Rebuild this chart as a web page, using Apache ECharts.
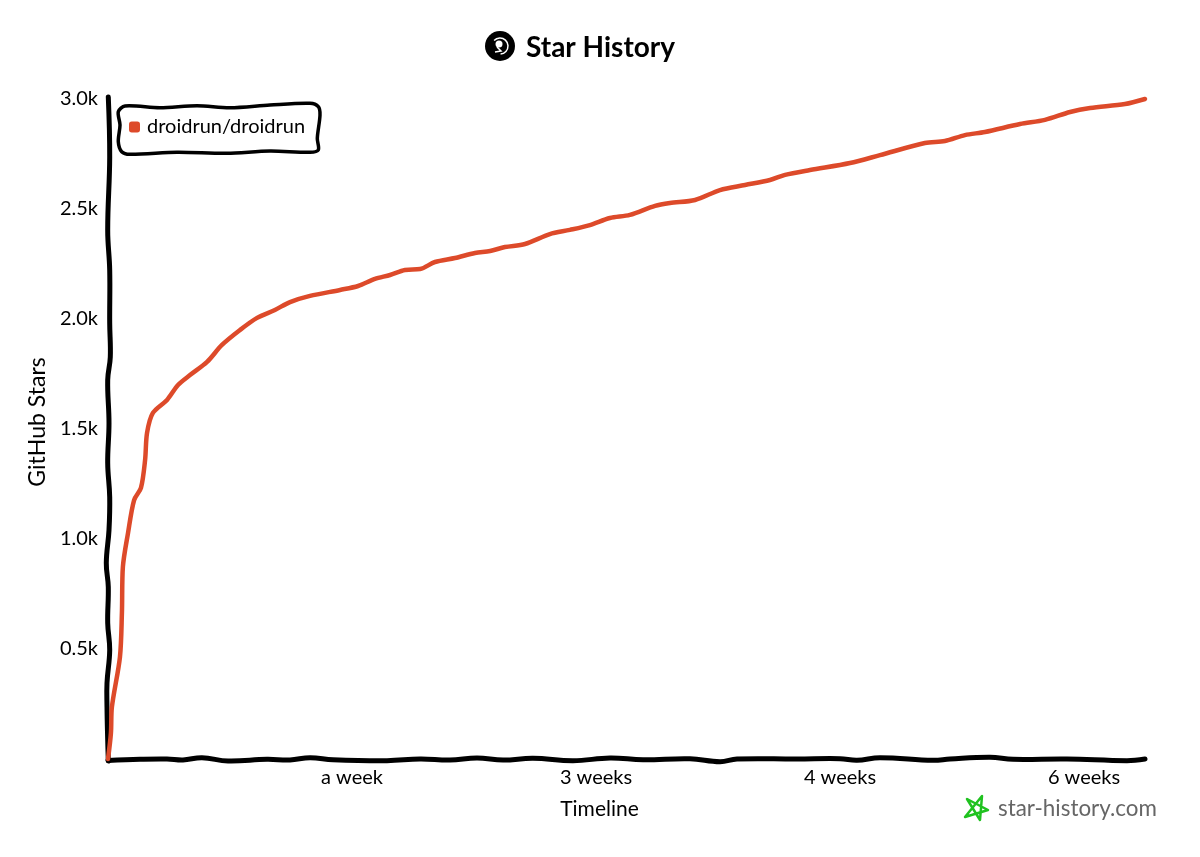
<html>
<head>
	<meta charset="UTF-8">
	<script src="https://cdn.jsdelivr.net/npm/echarts@6/dist/echarts.min.js"></script>
</head>

<body style="margin:0;background:#fff;">
<div id="chart" style="width:1200px;height:857px;"></div>

<script type="text/javascript">

        var fontName = 'Lato, "Noto Sans", sans-serif'

        var seriesName = 'droidrun/droidrun'
        // days since the first star
        var days = [0, 0.12, 0.16, 0.49, 0.57, 0.61, 0.82, 1.07, 1.35, 1.52, 1.6, 1.84, 2.42, 2.87, 3.36,
            4.06, 4.67, 5.41, 6.11, 6.84, 7.46, 8.28, 9.51, 10.25, 10.94, 11.56, 12.17, 12.79, 13.4, 14.22,
            15.04, 15.66, 16.27, 17.09, 18.11, 18.93, 19.75, 20.57, 21.39, 22.42, 23.03, 24.06, 25.08, 26.11,
            27.13, 27.75, 28.77, 30.41, 31.64, 33.48, 34.3, 35.12, 35.94, 37.38, 38.4, 39.43, 40.25, 41.68, 42.5]
        var stars = [0, 118, 236, 464, 664, 873, 1027, 1177, 1232, 1359, 1482, 1573, 1632, 1700, 1745,
            1805, 1882, 1950, 2005, 2041, 2077, 2105, 2132, 2150, 2182, 2200, 2223, 2227, 2259, 2277,
            2300, 2309, 2327, 2341, 2386, 2405, 2427, 2459, 2473, 2514, 2527, 2541, 2586, 2609,
            2632, 2655, 2677, 2709, 2745, 2800, 2809, 2836, 2850, 2886, 2905, 2941, 2959, 2977, 3000]

        var xTickValues = [10, 20, 30, 40]
        var xTickLabels = ['a week', '3 weeks', '4 weeks', '6 weeks']
        var yTickValues = [500, 1000, 1500, 2000, 2500, 3000]
        var yTickLabels = ['0.5k', '1.0k', '1.5k', '2.0k', '2.5k', '3.0k']

        // hand drawn outlines, the wobble is only decoration
        var sketchXAxis = [[108, 760.5], [140, 759.3], [167, 759], [183, 760], [202, 757.7], [228, 761], [267, 759.3], [290, 760],
            [310, 757.7], [333, 759.7], [387, 760.7], [420, 759], [450, 760], [477, 758], [503, 760], [533, 758.3], [573, 760.7],
            [610, 758], [643, 759.7], [690, 758.7], [720, 761.7], [737, 759], [797, 759], [840, 758.7], [857, 760.3], [880, 757.7],
            [933, 760.3], [950, 759], [990, 757.3], [1013, 759.3], [1067, 759], [1127, 760.7], [1145, 759]]
        var sketchYAxis = [[108.3, 97], [109.7, 157], [107.7, 230], [109.7, 270], [109.7, 323], [110.3, 357], [107.7, 380], [109, 423],
            [107.7, 463], [109.7, 497], [109, 530], [106.3, 563], [108.3, 587], [107.7, 623], [109.7, 650], [107, 683], [107, 707],
            [107.7, 740], [108.3, 761]]
        var sketchLegendBox = [[125, 106], [160, 107.7], [197, 105.7], [230, 107.7], [270, 105], [310, 103.3], [318.3, 106.7], [320, 115],
            [317.3, 138.3], [318.3, 150], [310, 152.3], [270, 151], [227, 153.3], [177, 152.3], [130, 154.3], [121.7, 151.7],
            [118.3, 141.7], [120, 125], [118.3, 111.7]]

        var points = []
        for (var i = 0; i < days.length; i++) {
            points.push([days[i], stars[i]])
        }

        var myChart = echarts.init(document.getElementById('chart'), null, {renderer: 'canvas'});

        var option = {
            backgroundColor: '#fff',
            animation: false,
            textStyle: {fontFamily: fontName},
            title: {
                text: 'Star History',
                left: 526,
                top: 34,
                padding: 0,
                textStyle: {fontFamily: fontName, fontSize: 28, fontWeight: 'bold', color: '#000'}
            },
            legend: {
                data: [seriesName],
                left: 118,
                top: 103,
                orient: 'vertical',
                padding: [14, 10, 14, 11],
                borderWidth: 0,
                icon: 'roundRect',
                itemWidth: 11,
                itemHeight: 11,
                itemGap: 0,
                textStyle: {fontFamily: fontName, fontSize: 20, color: '#000', padding: [0, 0, 0, 2]}
            },
            grid: {left: 108, right: 55, top: 99, bottom: 98},
            xAxis: {
                type: 'value',
                min: 0,
                max: 42.5,
                interval: 10,
                name: 'Timeline',
                nameLocation: 'middle',
                nameGap: 40,
                nameTextStyle: {fontFamily: fontName, fontSize: 21, color: '#000', padding: [0, 54, 0, 0]},
                splitLine: {show: false},
                axisTick: {show: false},
                axisLine: {show: false, onZero: false},
                axisLabel: {
                    fontFamily: fontName,
                    fontSize: 20,
                    color: '#000',
                    margin: 9,
                    showMaxLabel: false,
                    formatter: function (value) {
                        var k = xTickValues.indexOf(value)
                        return k < 0 ? '' : xTickLabels[k]
                    }
                }
            },
            yAxis: {
                type: 'value',
                min: 0,
                max: 3000,
                interval: 500,
                name: 'GitHub Stars',
                nameLocation: 'middle',
                nameGap: 58,
                nameTextStyle: {fontFamily: fontName, fontSize: 23, color: '#000', padding: [0, 0, 0, 14]},
                splitLine: {show: false},
                axisTick: {show: false},
                axisLine: {show: false},
                axisLabel: {
                    fontFamily: fontName,
                    fontSize: 20,
                    color: '#000',
                    margin: 10,
                    formatter: function (value) {
                        var k = yTickValues.indexOf(value)
                        return k < 0 ? '' : yTickLabels[k]
                    }
                }
            },
            series: [
                {
                    name: seriesName,
                    type: 'line',
                    data: points,
                    smooth: 0.3,
                    showSymbol: false,
                    clip: false,
                    itemStyle: {color: '#dd4a2a'},
                    lineStyle: {color: '#dd4a2a', width: 4.5, cap: 'round', join: 'round'}
                }
            ],
            graphic: [
                {type: 'polyline', shape: {points: sketchXAxis, smooth: 0.4}, style: {stroke: '#000', lineWidth: 5, fill: null, lineCap: 'round'}},
                {type: 'polyline', shape: {points: sketchYAxis, smooth: 0.4}, style: {stroke: '#000', lineWidth: 5, fill: null, lineCap: 'round'}},
                {type: 'polygon', shape: {points: sketchLegendBox, smooth: 0.3}, style: {stroke: '#000', lineWidth: 3.5, fill: null}},
                // logo next to the title
                {type: 'circle', shape: {cx: 500, cy: 46, r: 15}, style: {fill: '#000'}},
                {type: 'arc', shape: {cx: 500, cy: 46, r: 8, startAngle: -2.4, endAngle: 1.5}, style: {stroke: '#fff', lineWidth: 1.5, fill: null}},
                {type: 'circle', shape: {cx: 499, cy: 44, r: 3.5}, style: {fill: '#fff'}},
                {type: 'polyline', shape: {points: [[497, 47], [501, 51], [495, 52]]}, style: {stroke: '#fff', lineWidth: 1.5, fill: null}},
                // watermark at the bottom right
                {type: 'polygon', shape: {points: [[982, 796], [980, 820], [967, 799], [988, 810], [965, 817]]},
                    style: {stroke: '#1fc21f', lineWidth: 2.5, fill: null, lineJoin: 'round'}},
                {type: 'text', left: 998, top: 798, style: {text: 'star-history.com', fontFamily: fontName, fontSize: 22.4, fill: '#666'}}
            ]
        };

        myChart.setOption(option);

</script>
</body>
</html>
